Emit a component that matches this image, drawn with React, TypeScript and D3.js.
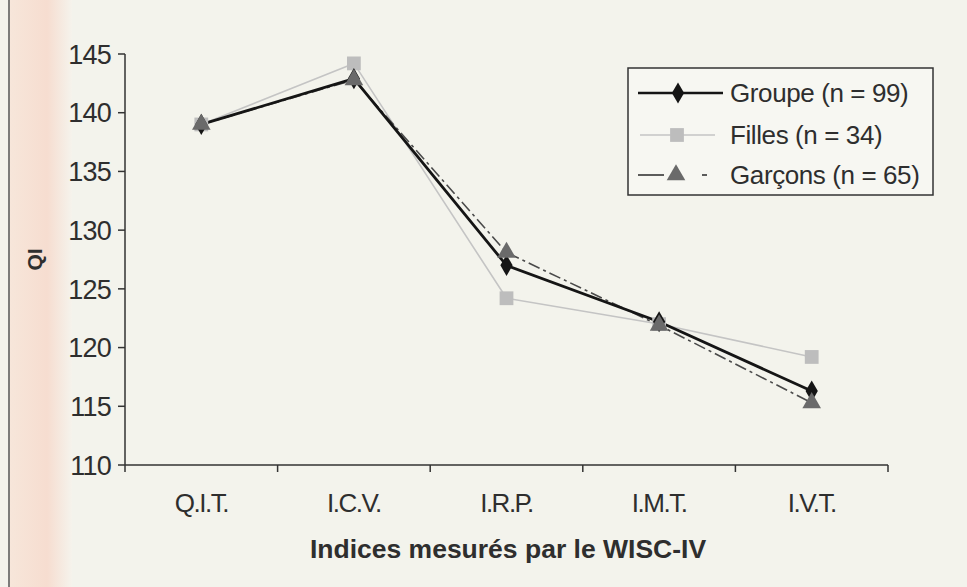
import React from "react";
import * as d3 from "d3";

const categories = ["Q.I.T.", "I.C.V.", "I.R.P.", "I.M.T.", "I.V.T."];
const groupe = [139, 142.9, 127, 122.2, 116.3];
const filles = [139, 144.2, 124.2, 122, 119.2];
const garcons = [139, 142.8, 128.1, 121.9, 115.3];
const yTicks = [110, 115, 120, 125, 130, 135, 140, 145];
const seriesNames = ["Groupe (n = 99)", "Filles (n = 34)", "Garçons (n = 65)"];

const W = 967, H = 587;
const left = 125, right = 888, top = 54, bottom = 465;
const FONT = "'Liberation Sans', Arial, sans-serif";
const TXT = "#2e2e2e";

export default function App() {
  const x = d3.scaleBand<string>().domain(categories).range([left, right]);
  const y = d3.scaleLinear().domain([110, 145]).range([bottom, top]);
  const cx = (c: string) => (x(c) as number) + x.bandwidth() / 2;
  const line = d3.line<number>().x((_, i) => cx(categories[i])).y((d) => y(d));
  const diamond = d3.symbol().type(d3.symbolDiamond).size(130)() as string;
  const square = d3.symbol().type(d3.symbolSquare).size(190)() as string;
  const tri = d3.symbol().type(d3.symbolTriangle).size(150)() as string;
  const bounds = [left, ...categories.map((c) => (x(c) as number) + x.bandwidth())];

  const legendY = [93, 135, 175];

  return (
    <svg width={W} height={H} style={{ position: "absolute", left: 0, top: 0 }}>
      <defs>
        <linearGradient id="pink" x1="0" x2="1" y1="0" y2="0">
          <stop offset="0" stopColor="#f7e6da" />
          <stop offset="0.6" stopColor="#f6ddd0" />
          <stop offset="1" stopColor="#f5f3ec" />
        </linearGradient>
      </defs>
      <rect x={0} y={0} width={W} height={H} fill="#f3f3ec" />
      <rect x={10} y={0} width={62} height={H} fill="url(#pink)" />
      <line x1={9} x2={9} y1={0} y2={H} stroke="#555" strokeWidth={1.5} />

      {/* axes */}
      <line x1={left} x2={left} y1={top} y2={bottom} stroke="#333" strokeWidth={1.5} />
      <line x1={left} x2={right} y1={bottom} y2={bottom} stroke="#333" strokeWidth={1.5} />
      {yTicks.map((t) => (
        <g key={t}>
          <line x1={left - 7} x2={left} y1={y(t)} y2={y(t)} stroke="#333" strokeWidth={1.5} />
          <text x={left - 14} y={y(t)} dy="0.36em" textAnchor="end" fontFamily={FONT} fontSize={27} fill={TXT} letterSpacing={-0.8}>
            {t}
          </text>
        </g>
      ))}
      {bounds.map((b, i) => (
        <line key={i} x1={b} x2={b} y1={bottom} y2={bottom + 7} stroke="#333" strokeWidth={1.5} />
      ))}
      {categories.map((c) => (
        <text key={c} x={cx(c)} y={512} textAnchor="middle" fontFamily={FONT} fontSize={26} fill={TXT} letterSpacing={-1.5}>
          {c}
        </text>
      ))}
      <text x={508} y={558} textAnchor="middle" fontFamily={FONT} fontSize={26.5} fontWeight="bold" fill={TXT}>
        Indices mesurés par le WISC-IV
      </text>
      <text transform={`translate(42,${y(127.5)}) rotate(-90)`} textAnchor="middle" fontFamily={FONT} fontSize={21} fontWeight="bold" fill={TXT}>
        QI
      </text>

      {/* lines */}
      <path d={line(filles) as string} fill="none" stroke="#c4c4c4" strokeWidth={1.6} />
      <path d={line(garcons) as string} fill="none" stroke="#4a4a4a" strokeWidth={1.6} strokeDasharray="12,4,3,4" />
      <path d={line(groupe) as string} fill="none" stroke="#151515" strokeWidth={2.8} />

      {/* markers */}
      {filles.map((v, i) => (
        <path key={"f" + i} d={square} transform={`translate(${cx(categories[i])},${y(v)})`} fill="#bdbdbd" />
      ))}
      {groupe.map((v, i) => (
        <path key={"g" + i} d={diamond} transform={`translate(${cx(categories[i])},${y(v)})`} fill="#151515" />
      ))}
      {garcons.map((v, i) => (
        <path key={"b" + i} d={tri} transform={`translate(${cx(categories[i])},${y(v)})`} fill="#6a6a6a" />
      ))}

      {/* legend */}
      <rect x={628} y={68} width={305} height={127} fill="#f7f7f2" stroke="#333" strokeWidth={1.5} />
      <line x1={638} x2={723} y1={legendY[0]} y2={legendY[0]} stroke="#151515" strokeWidth={2.5} />
      <path d={diamond} transform={`translate(678,${legendY[0]})`} fill="#151515" />
      <line x1={640} x2={715} y1={legendY[1]} y2={legendY[1]} stroke="#c4c4c4" strokeWidth={1.6} />
      <path d={square} transform={`translate(677,${legendY[1]})`} fill="#bdbdbd" />
      <line x1={638} x2={664} y1={legendY[2]} y2={legendY[2]} stroke="#4a4a4a" strokeWidth={1.8} />
      <line x1={702} x2={707} y1={legendY[2]} y2={legendY[2]} stroke="#4a4a4a" strokeWidth={1.8} />
      <path d={tri} transform={`translate(676,${legendY[2]})`} fill="#6a6a6a" />
      {seriesNames.map((s, i) => (
        <text key={s} x={730} y={legendY[i]} dy="0.36em" fontFamily={FONT} fontSize={26} fill={TXT} letterSpacing={-0.4}>
          {s}
        </text>
      ))}
    </svg>
  );
}
